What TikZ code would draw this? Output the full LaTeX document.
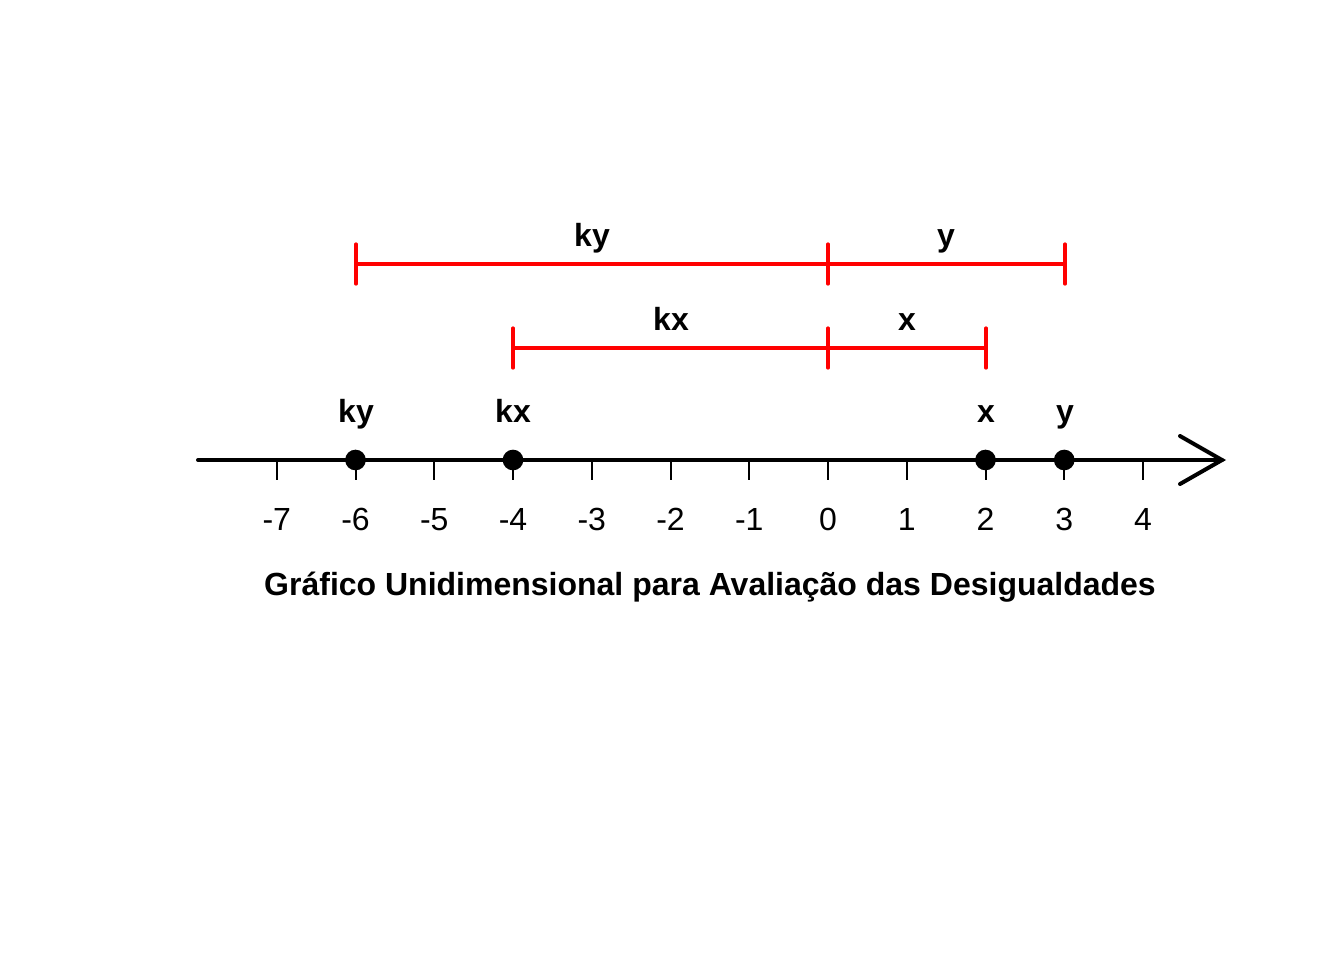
\documentclass[tikz,border=0pt]{standalone}
\usepackage{fontspec}
\setmainfont{Liberation Sans}
\begin{document}
\begin{tikzpicture}[x=0.75pt,y=-0.75pt,
  axisline/.style={line width=3pt,line cap=round,line join=miter},
  tickmark/.style={line width=1.5pt},
  seg/.style={red,line width=2.4pt,line cap=round},
  dotpt/.style={circle,fill=black,inner sep=0pt,minimum size=15.5pt},
  boldlab/.style={font=\fontsize{24}{26}\selectfont\bfseries,anchor=base,inner sep=0pt},
  numlab/.style={font=\fontsize{24}{26}\selectfont,anchor=base,inner sep=0pt}]
\useasboundingbox (0,0) rectangle (1344,960);
% axis
\coordinate (a0) at (198,460);
\coordinate (a1) at (1222,460);
\coordinate (h1) at (1180,436);
\coordinate (h2) at (1180,484);
\draw[axisline] (a0) -- (a1);
\draw[axisline] (h1) -- (a1) -- (h2);
% ticks and labels
\foreach \v in {-7,...,4}{
  \coordinate (t\v) at ({828+78.75*\v},460);
  \coordinate (b\v) at ({828+78.75*\v},480);
  \draw[tickmark] (t\v) -- (b\v);
  \node[numlab] (n\v) at ({828+78.75*\v},530) {\v};
}
% points
\node[dotpt] (pky) at (t-6) {};
\node[dotpt] (pkx) at (t-4) {};
\node[dotpt] (px) at (t2) {};
\node[dotpt] (py) at (t3) {};
\node[boldlab] (lky) at (356,422) {ky};
\node[boldlab] (lkx) at (513,422) {kx};
\node[boldlab] (lx) at (986,422) {x};
\node[boldlab] (ly) at (1065,422) {y};
% red segments
\coordinate (s1a) at (356,264); \coordinate (s1m) at (828,264); \coordinate (s1b) at (1065,264);
\coordinate (s2a) at (513,348); \coordinate (s2m) at (828,348); \coordinate (s2b) at (986,348);
\draw[seg] (s1a) -- (s1b);
\draw[seg] (s2a) -- (s2b);
\foreach \c in {s1a,s1m,s1b,s2a,s2m,s2b}{
  \draw[seg] ([yshift=-20*0.75pt]\c) -- ([yshift=20*0.75pt]\c);
}
\node[boldlab] (sky) at (592,246) {ky};
\node[boldlab] (sy) at (946,246) {y};
\node[boldlab] (skx) at (671,330) {kx};
\node[boldlab] (sx) at (907,330) {x};
% title
\node[boldlab] (title) at (710,595) {Gráfico Unidimensional para Avaliação das Desigualdades};
\end{tikzpicture}
\end{document}
